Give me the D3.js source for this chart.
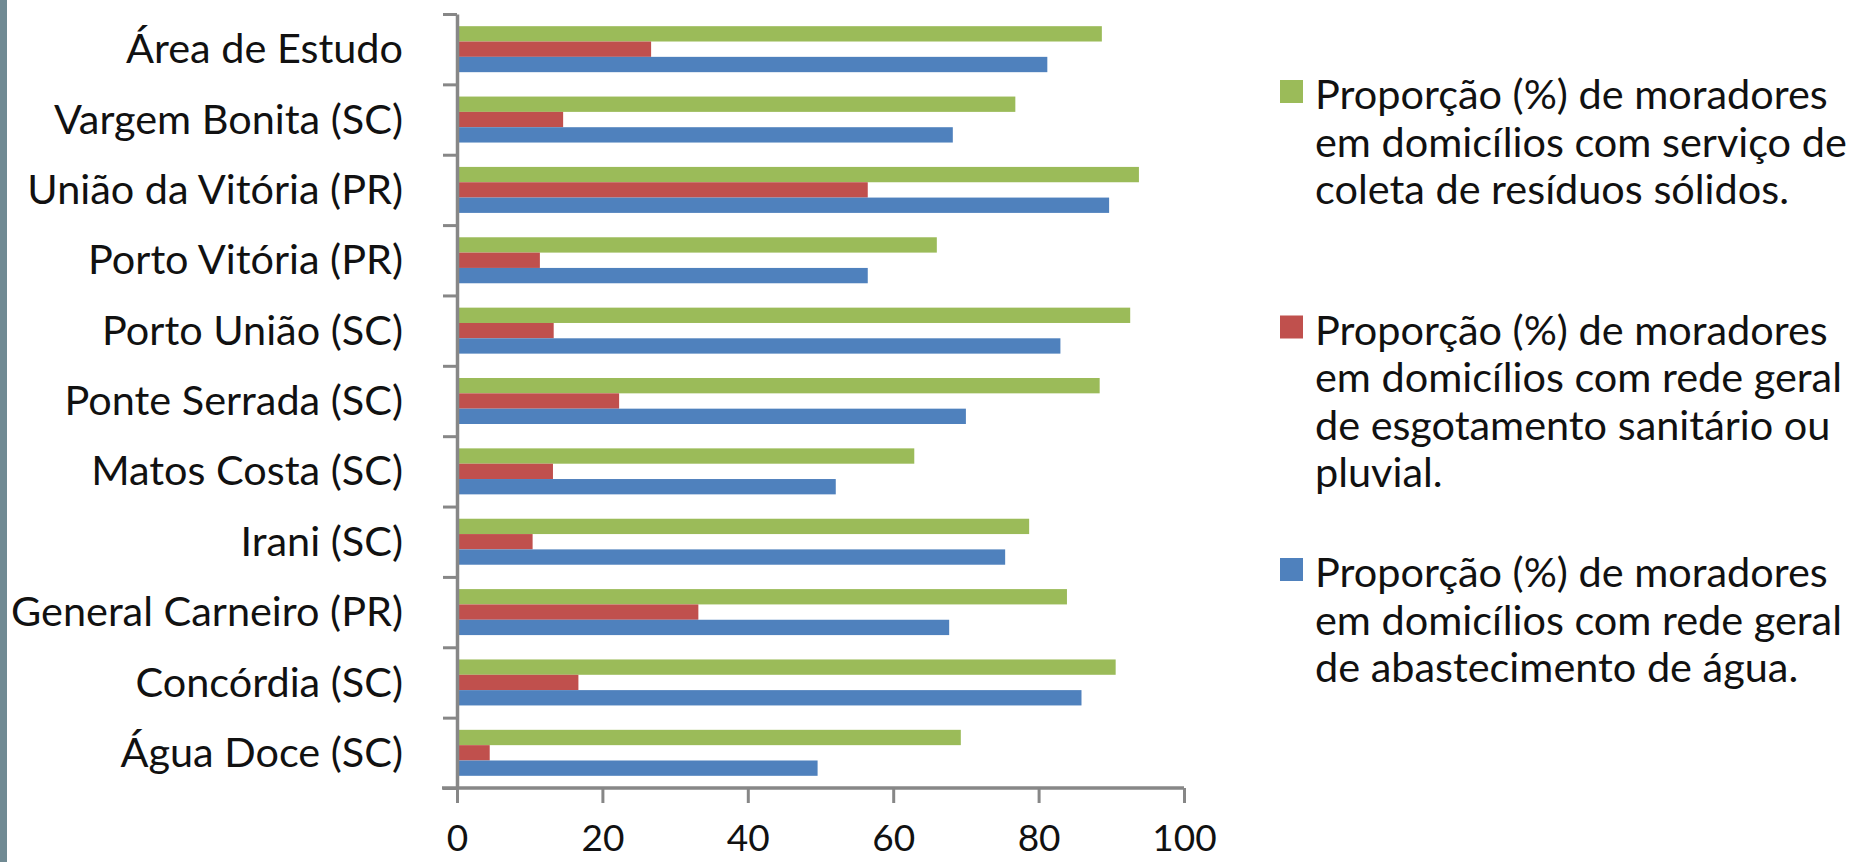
<!DOCTYPE html>
<html><head><meta charset="utf-8">
<script src="https://cdn.jsdelivr.net/npm/d3@7"></script>
<style>body{margin:0;background:#fff;overflow:hidden}</style>
</head><body>
<svg id="chart" width="1856" height="862"></svg>
<script>
const categories = ["Área de Estudo","Vargem Bonita (SC)","União da Vitória (PR)","Porto Vitória (PR)","Porto União (SC)","Ponte Serrada (SC)","Matos Costa (SC)","Irani (SC)","General Carneiro (PR)","Concórdia (SC)","Água Doce (SC)"];
const seriesKeys = ["residuos","esgoto","agua"];
const residuos = [88.7,76.8,93.8,66.0,92.6,88.4,62.9,78.7,83.9,90.6,69.3];
const esgoto   = [26.7,14.6,56.5,11.4,13.3,22.3,13.2,10.4,33.2,16.7,4.5];
const agua     = [81.2,68.2,89.7,56.5,83.0,70.0,52.1,75.4,67.7,85.9,49.6];
const legendLines = [
  ["Proporção (%) de moradores","em domicílios com serviço de","coleta de resíduos sólidos."],
  ["Proporção (%) de moradores","em domicílios com rede geral","de esgotamento sanitário ou","pluvial."],
  ["Proporção (%) de moradores","em domicílios com rede geral","de abastecimento de água."]
];
const xTicks = [0,20,40,60,80,100];
const colors = ["#9bbb59","#c0504d","#4f81bd"];

const seriesValues = {residuos, esgoto, agua};
const FONT = "Lato, 'Open Sans', sans-serif";
const svg = d3.select("#chart");
svg.append("rect").attr("width",1856).attr("height",862).attr("fill","#fff");
svg.append("rect").attr("x",0).attr("y",0).attr("width",7).attr("height",862).attr("fill","#708a93");

function fitSize(text, target){
  const t = svg.append("text").attr("font-family",FONT).attr("font-size",100).text(text);
  const w = t.node().getComputedTextLength();
  t.remove();
  return 100*target/w;
}
const labelSize = fitSize("General Carneiro (PR)", 392);
const legendSize = fitSize("em domicílios com serviço de", 532);

const x = d3.scaleLinear().domain([0,100]).range([457,1184]);
const y = d3.scaleBand().domain(categories).range([14,788]).paddingInner(0).paddingOuter(0);
const ySub = d3.scaleBand().domain(seriesKeys).range([0,y.bandwidth()]).paddingInner(0).paddingOuter(0.795);
const color = d3.scaleOrdinal().domain(seriesKeys).range(colors);

// bars
const groups = svg.append("g").selectAll("g").data(categories).join("g")
  .attr("transform", d => `translate(0,${y(d)})`);
groups.selectAll("rect").data((d,i) => seriesKeys.map(k => ({key:k, value: seriesValues[k][i]})))
  .join("rect")
  .attr("x", x(0))
  .attr("y", d => ySub(d.key))
  .attr("width", d => x(d.value) - x(0))
  .attr("height", ySub.bandwidth())
  .attr("fill", d => color(d.key));

// y axis: boundary ticks
const yB = d3.scaleLinear().domain([0,categories.length]).range([14,788]);
const yAxisG = svg.append("g").attr("transform",`translate(${x(0)},0)`)
  .call(d3.axisLeft(yB).tickValues(d3.range(categories.length+1)).tickFormat("").tickSize(14).tickSizeOuter(0));
yAxisG.select(".domain").attr("stroke","#878787").attr("stroke-width",3.5);
yAxisG.selectAll(".tick line").attr("stroke","#878787").attr("stroke-width",3);

// y labels
const yLab = svg.append("g").attr("transform",`translate(${x(0)},0)`)
  .call(d3.axisLeft(y).tickSize(0).tickPadding(54));
yLab.select(".domain").remove();
yLab.selectAll("text").attr("font-family",FONT).attr("font-size",labelSize)
  .attr("fill","#111").attr("dy","0.34em");

// x axis
const xAxisG = svg.append("g").attr("transform",`translate(0,788)`)
  .call(d3.axisBottom(x).tickValues(xTicks).tickSize(15).tickSizeOuter(0));
xAxisG.select(".domain").attr("stroke","#878787").attr("stroke-width",3.5)
  .attr("d", `M${x(0)-15},0H${x(100)}`);
xAxisG.selectAll(".tick line").attr("stroke","#878787").attr("stroke-width",3);
xAxisG.selectAll("text").attr("font-family",FONT).attr("font-size",37)
  .attr("fill","#111").attr("y",37).attr("dy","0.71em");

// legend
const legStart = [109, 344.5, 587];
const lineGap = 47.5;
const leg = svg.append("g");
legendLines.forEach((lines, i) => {
  const g = leg.append("g");
  g.append("rect").attr("x",1280).attr("y",legStart[i]-29).attr("width",23).attr("height",23)
    .attr("fill",colors[i]);
  g.selectAll("text").data(lines).join("text")
    .attr("x",1315).attr("y",(d,j) => legStart[i] + j*lineGap)
    .attr("font-family",FONT).attr("font-size",legendSize).attr("fill","#111")
    .text(d => d);
});
</script>
</body></html>
